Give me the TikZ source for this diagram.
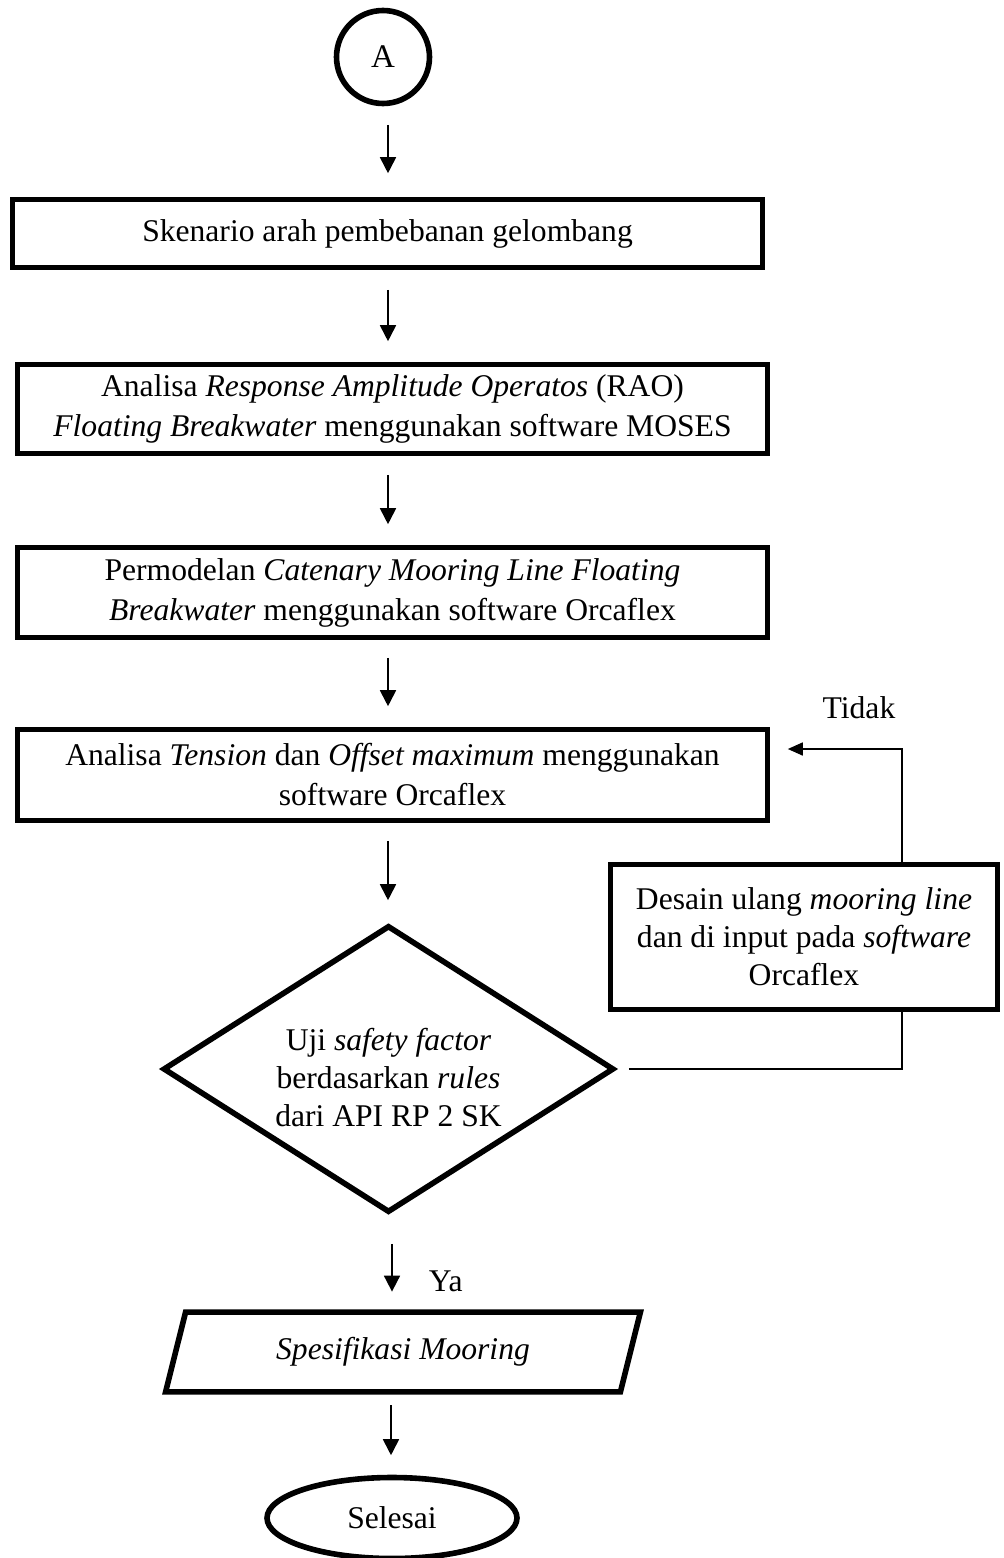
\documentclass[tikz,border=0pt]{standalone}
\usepackage{fontspec}
\setmainfont{Liberation Serif}
\usetikzlibrary{shapes.geometric,arrows.meta,calc}
\begin{document}
\begin{tikzpicture}[x=0.5pt,y=-0.5pt,
  every node/.style={font=\fontsize{15.8}{20}\selectfont, inner sep=0pt},
  thickbox/.style={draw, line width=2.8pt, fill=white, align=center},
  procbox/.style={thickbox, rectangle, minimum width=375pt},
  arr/.style={line width=0.9pt, -{Triangle[length=8pt,width=8pt]}},
  fbline/.style={line width=0.8pt},
  fbarr/.style={line width=0.8pt, -{Triangle[length=7.5pt,width=6.5pt]}}
]
\useasboundingbox (0,0) rectangle (1003,1558);

\node[thickbox, circle, minimum size=46.5pt, font=\fontsize{16.5}{20}\selectfont] (A) at (383,57) {A};

\node[procbox, minimum height=34pt] (box1) at (387.5,233.5)
  {Skenario arah pembebanan gelombang};

\node[procbox, minimum height=44.5pt] (box2) at (392.5,409)
  {Analisa \textit{Response Amplitude Operatos} (RAO)\\
   \textit{Floating Breakwater} menggunakan software MOSES};

\node[procbox, minimum height=45pt] (box3) at (392.5,592.5)
  {Permodelan \textit{Catenary Mooring Line Floating}\\
   \textit{Breakwater} menggunakan software Orcaflex};

\node[procbox, minimum height=45.5pt] (box4) at (392.5,775)
  {Analisa \textit{Tension} dan \textit{Offset maximum} menggunakan\\
   software Orcaflex};

\node[thickbox, rectangle, minimum width=193.5pt, minimum height=72.5pt,
      font=\fontsize{15.8}{19}\selectfont] (redesign) at (804,937)
  {Desain ulang \textit{mooring line}\\
   dan di input pada \textit{software}\\
   Orcaflex};

\node[draw, line width=2.8pt, diamond, minimum width=225.5pt,
      minimum height=143.5pt] (dia) at (388.5,1069) {};
\node[align=center, font=\fontsize{15.8}{19}\selectfont] (diatext)
  at ($(dia)+(0,9)$)
  {Uji \textit{safety factor}\\
   berdasarkan \textit{rules}\\
   dari API RP 2 SK};

\node[minimum width=237pt, minimum height=39.5pt] (spec) at (403,1352)
  {\textit{Spesifikasi Mooring}};
\draw[line width=2.8pt, line join=miter]
  (spec.south west) -- ($(spec.north west)+(20,0)$) --
  (spec.north east) -- ($(spec.south east)+(-20,0)$) -- cycle;

\node[thickbox, ellipse, minimum width=125pt, minimum height=40.5pt]
  (end) at (392,1518) {Selesai};

\node (tidak) at (859,708) {Tidak};

% main flow arrows
\draw[arr] ($(A.south)+(5,18.5)$) -- ($(box1.north)+(0.5,-23.5)$);
\draw[arr] ($(box1.south)+(0.5,19.5)$) -- ($(box2.north)+(-4.5,-20.5)$);
\draw[arr] ($(box2.south)+(-4.5,18.5)$) -- ($(box3.north)+(-4.5,-20.5)$);
\draw[arr] ($(box3.south)+(-4.5,17.5)$) -- ($(box4.north)+(-4.5,-20.5)$);
\draw[arr] ($(box4.south)+(-4.5,17.5)$) -- ($(dia.north)+(-0.5,-22.5)$);
\draw[arr] ($(dia.south)+(3.5,28.5)$) --
  node[pos=0.78, anchor=west, xshift=18pt] (ya) {Ya}
  ($(spec.north)+(-11,-20.5)$);
\draw[arr] ($(spec.south)+(-12,13.5)$) -- ($(end.north)+(-1,-19.5)$);

% feedback loop
\draw[fbline] ($(dia.east)+(12,0)$) -| ($(redesign.south)+(98,0)$);
\draw[fbarr] ($(redesign.north)+(98,0)$) |- ($(box4.east)+(17.5,-26)$);
\end{tikzpicture}
\end{document}
